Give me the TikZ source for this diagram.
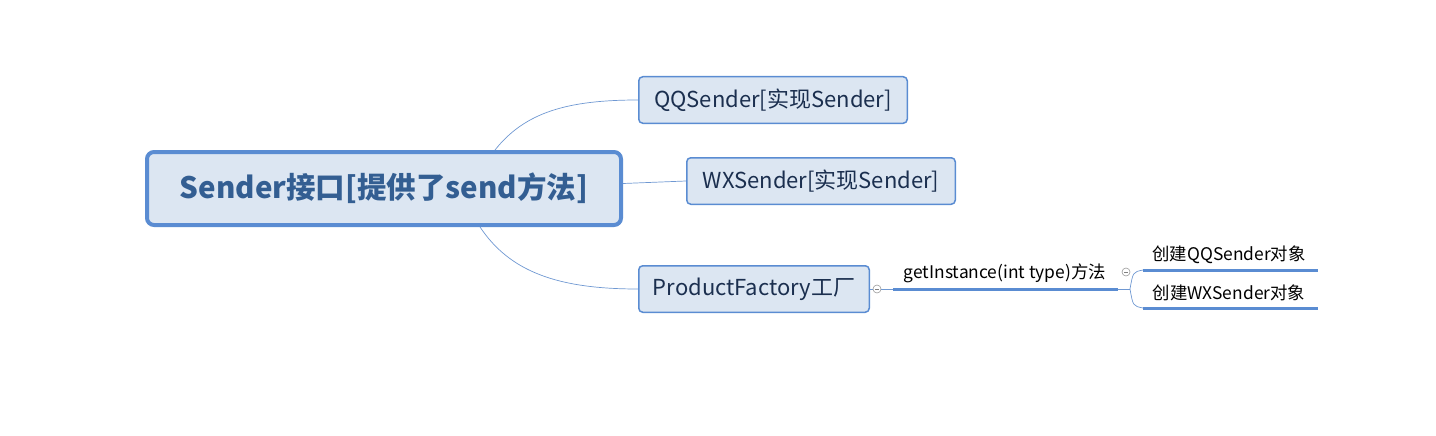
\documentclass[tikz,border=0pt]{standalone}
\usepackage{fontspec}
\setmainfont{Noto Sans CJK SC}
\definecolor{boxline}{HTML}{5A8CD2}
\definecolor{boxfill}{HTML}{DCE6F2}
\definecolor{roottext}{HTML}{335E92}
\definecolor{nodetext}{HTML}{1B2F4F}
\definecolor{curveline}{HTML}{6F98D2}
\tikzset{
  topic/.style={draw=boxline, fill=boxfill, rounded corners=4pt, line width=1.5pt,
    text=nodetext, font=\fontsize{22}{26}\selectfont, inner sep=0pt},
  leaf/.style={text=black, font=\fontsize{17.4}{20}\selectfont, inner sep=0pt},
  fold/.style={circle, draw=gray!80, line width=0.6pt, inner sep=0pt, minimum size=8pt},
  branch/.style={curveline, line width=0.7pt},
  bar/.style={boxline, line width=3pt}
}
\begin{document}
\begin{tikzpicture}[x=1pt, y=-1pt]
  \useasboundingbox (0,0) rectangle (1436,436);
  \node[topic, line width=4pt, rounded corners=7pt, minimum width=474pt, minimum height=73pt,
    text=roottext, font=\bfseries\fontsize{29.5}{33}\selectfont] (root) at (384,188.5) {Sender接口[提供了send方法]};
  \node[topic, minimum width=268.5pt, minimum height=46.5pt] (qq) at (773,100) {QQSender[实现Sender]};
  \node[topic, minimum width=268.5pt, minimum height=46.5pt] (wx) at (821,181) {WXSender[实现Sender]};
  \node[topic, minimum width=230.5pt, minimum height=46.5pt] (pf) at (754,289) {ProductFactory工厂};
  \node[fold] (c1) at (877,289) {\color{gray}\rule[0.5pt]{4pt}{0.5pt}};
  \node[fold] (c2) at (1126,272) {\color{gray}\rule[0.5pt]{4pt}{0.5pt}};
  \node[leaf] (m) at (1005,273) {getInstance(int type)方法};
  \node[leaf] (s1) at (1229,255) {创建QQSender对象};
  \node[leaf] (s2) at (1229,293) {创建WXSender对象};
  \coordinate (mstart) at (893,289);
  \coordinate (mend) at (1118,289);
  \coordinate (fork) at (1130,289);
  \coordinate (s1a) at (1143,270);
  \coordinate (s1b) at (1318,270);
  \coordinate (s2a) at (1143,308);
  \coordinate (s2b) at (1318,308);
  % main branches
  \draw[branch] ([xshift=-128pt]root.north east) .. controls +(30,-38) and +(-70,0) .. (qq.west);
  \draw[branch] ([yshift=5pt]root.east) -- (wx.west);
  \draw[branch] ([xshift=-143pt]root.south east) .. controls +(30,45) and +(-80,0) .. (pf.west);
  % factory method
  \draw[branch] (pf.east) -- (c1.west);
  \draw[branch] (c1.east) -- (mstart);
  \draw[bar] (mstart) -- (mend);
  \draw[branch] (mend) -- (fork);
  \draw[branch] (fork) .. controls +(3,-17) .. (s1a);
  \draw[branch] (fork) .. controls +(3,17) .. (s2a);
  \draw[bar] (s1a) -- (s1b);
  \draw[bar] (s2a) -- (s2b);
\end{tikzpicture}
\end{document}
